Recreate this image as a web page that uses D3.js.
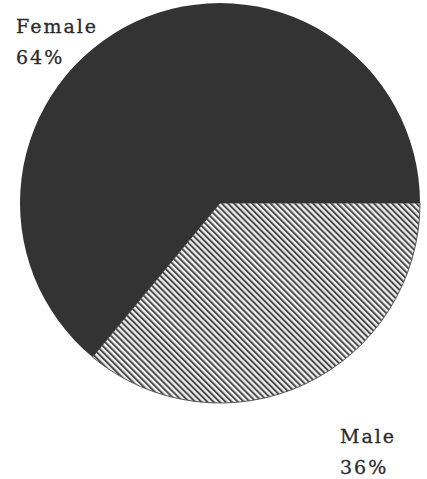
<!DOCTYPE html>
<html><head><meta charset="utf-8">
<script src="https://cdn.jsdelivr.net/npm/d3@7"></script>
<style>html,body{margin:0;padding:0;background:#fff;}</style>
</head><body>
<svg id="c" width="427" height="479"></svg>
<script>
const categories = ["Male", "Female"];
const values = [36, 64];
const labels = ["36%", "64%"];

const svg = d3.select("#c");
const defs = svg.append("defs");
const pat = defs.append("pattern").attr("id","hatch").attr("patternUnits","userSpaceOnUse")
  .attr("width",4.3).attr("height",4.3).attr("patternTransform","rotate(-45)");
pat.append("rect").attr("width",4.3).attr("height",4.3).attr("fill","#f2f2f2");
pat.append("rect").attr("width",2).attr("height",4.3).attr("fill","#4a4a4a");

const cx = 220, cy = 203, r = 200;
const pie = d3.pie().sort(null).startAngle(Math.PI/2).endAngle(Math.PI/2 + 2*Math.PI);
const arcs = pie(values);
const arc = d3.arc().innerRadius(0).outerRadius(r);
const fills = ["url(#hatch)", "#333333"];
const g = svg.append("g").attr("transform",`translate(${cx},${cy})`);
g.selectAll("path").data(arcs).join("path")
  .attr("d", arc).attr("fill",(d,i)=>fills[i])
  .attr("stroke",(d,i)=> i===0 ? "#555" : "none").attr("stroke-width",1);

const labelPos = [[340,443],[16,33]];
const t = svg.selectAll("text.lbl").data(categories).join("text")
  .attr("class","lbl")
  .attr("font-family","'DejaVu Serif', serif").attr("font-size",19)
  .attr("letter-spacing",2).attr("fill","#2a2a2a").attr("stroke","#2a2a2a").attr("stroke-width",0.3);
t.each(function(d,i){
  const s = d3.select(this);
  s.append("tspan").attr("x",labelPos[i][0]).attr("y",labelPos[i][1]).text(d);
  s.append("tspan").attr("x",labelPos[i][0]).attr("y",labelPos[i][1]+31).text(labels[i]);
});
</script>
</body></html>
